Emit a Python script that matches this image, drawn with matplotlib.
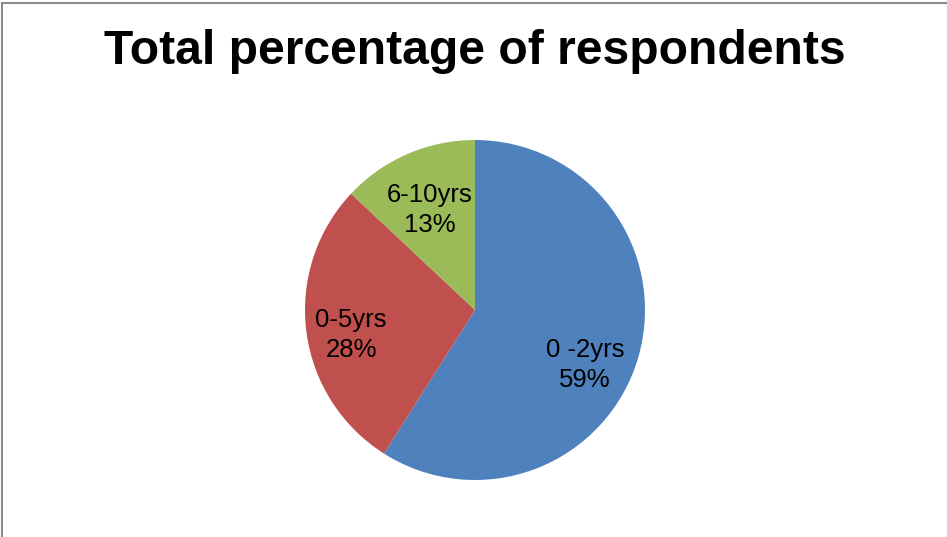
import matplotlib
matplotlib.use("Agg")
import matplotlib.pyplot as plt
from matplotlib.patches import Rectangle

plt.rcParams["font.family"] = ["Liberation Sans", "DejaVu Sans"]

# Chart data
labels = ["0 -2yrs", "0-5yrs", "6-10yrs"]
values = [59, 28, 13]
colors = ["#4F81BD", "#C0504D", "#9BBB59"]
title = "Total percentage of respondents"

# label anchor points (in pie-radius units), placed like Excel does
label_pos = [(0.647, -0.324), (-0.729, -0.147), (-0.265, 0.588)]

W, H = 947, 537
fig = plt.figure(figsize=(W / 100, H / 100), dpi=100)

# thin grey frame (only left and top edges show in the reference)
fig.patches.append(Rectangle((1.5 / W, -0.05), 1.2, (H - 3) / H + 0.05,
                             transform=fig.transFigure, fill=False,
                             edgecolor="#8c8c8c", linewidth=1.5))

cx, cy, r = 475, H - 310, 170
ax = fig.add_axes([(cx - r) / W, (cy - r) / H, 2 * r / W, 2 * r / H])

counter = iter(range(len(values)))


def fmt(pct):
    i = next(counter)
    return f"{labels[i]}\n{pct:.0f}%"


wedges, texts, autotexts = ax.pie(values, colors=colors, startangle=90,
                                  counterclock=False, autopct=fmt,
                                  radius=1,
                                  wedgeprops=dict(linewidth=0),
                                  textprops=dict(fontsize=18.5, color="black",
                                                 linespacing=1.3))
for t, pos in zip(autotexts, label_pos):
    t.set_position(pos)

ax.set_xlim(-1, 1)
ax.set_ylim(-1, 1)
ax.set_aspect("equal")
ax.axis("off")

fig.text(cx / W, 1 - 52 / H, title, ha="center", va="center",
         fontsize=34.6, fontweight="bold")

fig.savefig("out.png", dpi=100, facecolor="white")
